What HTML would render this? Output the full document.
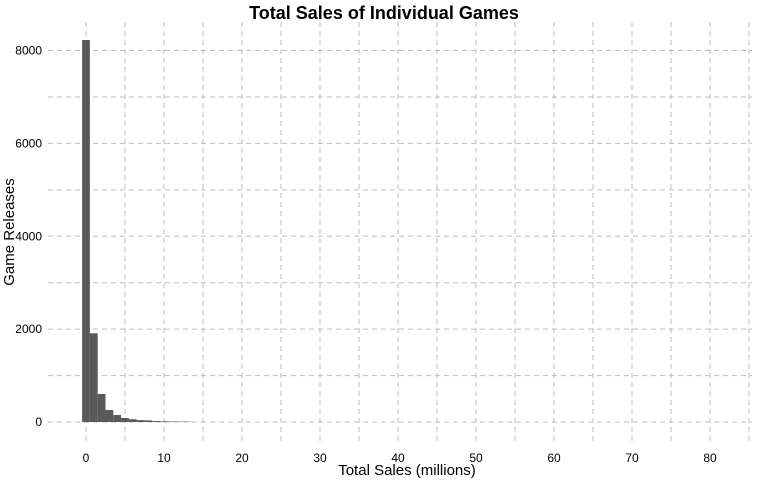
<!DOCTYPE html>
<html><head><meta charset="utf-8"><style>
body{margin:0;background:#fff;font-family:"Liberation Sans",sans-serif}
</style></head><body>
<svg width="768" height="480" xmlns="http://www.w3.org/2000/svg">
<g id="grid"></g>
<g id="bars"></g>
<g id="xt"></g>
<g id="yt"></g>
<text x="384" y="19" text-anchor="middle" font-size="18" font-weight="bold">Total Sales of Individual Games</text>
<text x="407" y="475" text-anchor="middle" font-size="15">Total Sales (millions)</text>
<text transform="translate(14,232) rotate(-90)" text-anchor="middle" font-size="15">Game Releases</text>
</svg>
<script>
const binCenters=[0,1,2,3,4,5,6,7,8,9,10,11,12,13];
const counts=[8226,1910,603,258,150,86,60,40,35,20,15,12,10,8];
const xTicks=[0,10,20,30,40,50,60,70,80];
const yTicks=[0,2000,4000,6000,8000];
const ns="http://www.w3.org/2000/svg";
const X=v=>86+v*7.8, Y=v=>422-v*(371.5/8000);
function mk(t,a,p){const e=document.createElementNS(ns,t);for(const k in a)e.setAttribute(k,a[k]);p.appendChild(e);return e;}
const g=document.getElementById('grid');
for(let v=0;v<=85;v+=5){const l=mk('line',{x1:X(v),x2:X(v),y1:22,y2:444,stroke:'#bdbdbd','stroke-dasharray':'5,4'},g);

}
for(let v=0;v<=8000;v+=1000){const l=mk('line',{x1:48,x2:752,y1:Y(v),y2:Y(v),stroke:'#bdbdbd','stroke-dasharray':'5,4'},g);

}
const b=document.getElementById('bars');
binCenters.forEach((c,i)=>{const r=mk('rect',{x:X(c-0.5),width:7.8,y:Y(counts[i]),height:Y(0)-Y(counts[i]),fill:'#595959'},b);

});
const xt=document.getElementById('xt');
xTicks.forEach(v=>{const t=mk('text',{x:X(v),y:462,'text-anchor':'middle','font-size':12},xt);t.textContent=v;

});
const yt=document.getElementById('yt');
yTicks.forEach(v=>{const t=mk('text',{x:42,y:Y(v)+4,'text-anchor':'end','font-size':12},yt);t.textContent=v;

});
</script>
</body></html>
